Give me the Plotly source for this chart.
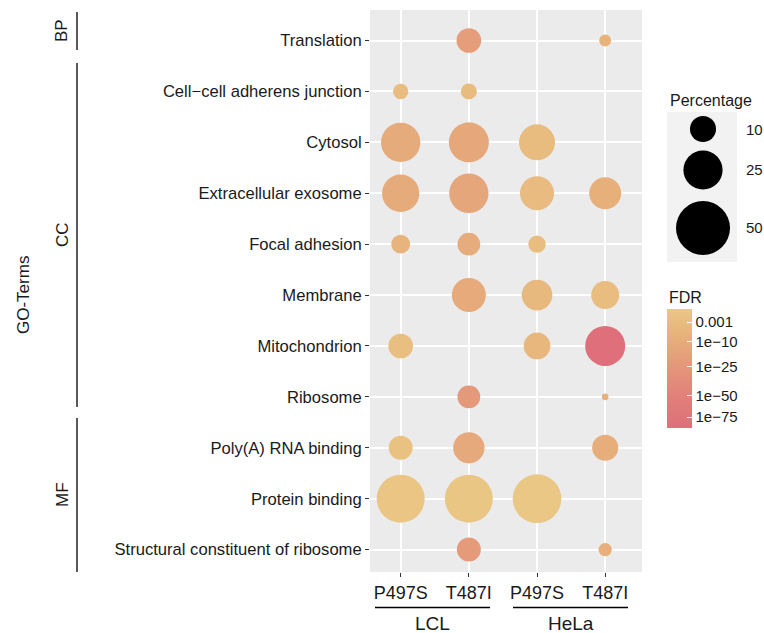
import numpy as np
import plotly.graph_objects as go

# ---------------- data ----------------
terms = [
    "Translation",
    "Cell\u2212cell adherens junction",
    "Cytosol",
    "Extracellular exosome",
    "Focal adhesion",
    "Membrane",
    "Mitochondrion",
    "Ribosome",
    "Poly(A) RNA binding",
    "Protein binding",
    "Structural constituent of ribosome",
]
samples = ["P497S", "T487I", "P497S", "T487I"]
cell_lines = ["LCL", "HeLa"]
categories = ["BP", "CC", "MF"]

# percentage of genes in each GO term (None = term not enriched)
pct_lcl_p497s = [None, 2.8, 25.2, 22.4, 4.6, None, 8.8, None, 8.3, 38.8, None]
pct_lcl_t487i = [8.8, 3.1, 26.1, 25.2, 7.3, 18.3, None, 7.3, 15.2, 38.8, 8.3]
pct_hela_p497s = [None, None, 20.7, 18.3, 3.8, 14.5, 10.6, None, None, 40.0, None]
pct_hela_t487i = [1.4, None, None, 15.9, None, 11.8, 26.1, 0.2, 10.0, None, 1.9]

# FDR given as -log10(FDR)
fdr_lcl_p497s = [None, 3.0, 11.0, 11.0, 6.0, None, 2.5, None, 1.5, 1.0, None]
fdr_lcl_t487i = [20.0, 3.5, 12.5, 13.5, 10.0, 10.5, None, 23.0, 12.0, 0.8, 21.0]
fdr_hela_p497s = [None, None, 3.5, 3.4, 3.0, 4.0, 5.0, None, None, 0.6, None]
fdr_hela_t487i = [7.0, None, None, 8.0, None, 3.0, 89.5, 7.5, 9.5, None, 8.5]

size_legend_values = [10, 25, 50]
fdr_tick_values = [3, 10, 25, 50, 75]
fdr_tick_text = ["0.001", "1e\u221210", "1e\u221225", "1e\u221250", "1e\u221275"]

# ---------------- helpers ----------------
W, H = 764, 633
FONT = "Liberation Sans, Arial, Helvetica, sans-serif"
TXT = "#1a1a1a"


def px(x):
    return x / W


def py(y):
    return 1 - y / H


def diam(p):
    return 3.4 + 7.16 * np.sqrt(p)


# colour runs from most significant (red) to least significant (light tan);
# values are -sqrt(-log10 FDR) so the light end sits at the top of the bar
colorscale = [
    [0.0, "#DF6F7A"],
    [0.25, "#E17F79"],
    [0.5, "#E4957A"],
    [0.75, "#E7AF7B"],
    [1.0, "#EAC784"],
]

pct_cols = [pct_lcl_p497s, pct_lcl_t487i, pct_hela_p497s, pct_hela_t487i]
fdr_cols = [fdr_lcl_p497s, fdr_lcl_t487i, fdr_hela_p497s, fdr_hela_t487i]

xs, ys, sizes, colors, hover = [], [], [], [], []
n = len(terms)
for ci, (pc, fc) in enumerate(zip(pct_cols, fdr_cols)):
    for ri in range(n):
        if pc[ri] is None:
            continue
        xs.append(ci + 1)
        ys.append(n - ri)
        sizes.append(diam(pc[ri]))
        colors.append(-np.sqrt(fc[ri]))
        hover.append(f"{terms[ri]}<br>{samples[ci]}<br>{pc[ri]}%<br>FDR 1e-{fc[ri]}")

all_fdr = [v for col in fdr_cols for v in col if v is not None]
cmin, cmax = -np.sqrt(max(all_fdr)), -np.sqrt(min(all_fdr))

fig = go.Figure()

# panel extents in pixels
PL, PR, PT, PB = 370, 642, 10, 572
# colour bar extents in pixels
CB_T, CB_B, CB_L = 309, 428, 667

fig.add_trace(go.Scatter(
    x=xs, y=ys, mode="markers", text=hover, hoverinfo="text",
    marker=dict(
        size=sizes, sizemode="diameter", sizeref=1,
        color=colors, colorscale=colorscale, cmin=cmin, cmax=cmax,
        line=dict(width=0), opacity=1,
        showscale=True,
        colorbar=dict(
            x=px(CB_L), xanchor="left", xpad=0, ypad=0,
            y=py((CB_T + CB_B) / 2), yanchor="middle",
            len=CB_B - CB_T, lenmode="pixels",
            thickness=25, thicknessmode="pixels",
            outlinewidth=0,
            tickvals=list(-np.sqrt(fdr_tick_values)),
            ticktext=fdr_tick_text,
            ticks="inside", ticklen=5, tickcolor="white", tickwidth=1,
            tickfont=dict(family=FONT, size=15, color=TXT),
        ),
    ),
    showlegend=False,
))

# size legend drawn in its own small subplot
LG_T, LG_B, LG_L, LG_R = 112, 262, 667, 737
leg_centres = [129, 170, 228]
fig.add_trace(go.Scatter(
    x=[36, 36, 36], y=[c - LG_T for c in leg_centres], mode="markers",
    marker=dict(size=[diam(v) for v in size_legend_values], sizemode="diameter",
                sizeref=1, color="black", opacity=1, line=dict(width=0)),
    xaxis="x2", yaxis="y2", hoverinfo="skip", showlegend=False,
))

fig.update_layout(
    width=W, height=H,
    margin=dict(l=0, r=0, t=0, b=0),
    paper_bgcolor="white",
    plot_bgcolor="#EBEBEB",
    font=dict(family=FONT, color=TXT),
    xaxis=dict(
        domain=[px(PL), px(PR)], range=[0.55, 4.54],
        tickvals=[1, 2, 3, 4], ticktext=samples,
        ticks="outside", ticklen=4, tickcolor="#333333", tickwidth=1,
        tickfont=dict(size=18, color=TXT),
        showgrid=True, gridcolor="white", gridwidth=1.6,
        zeroline=False, showline=False, fixedrange=True,
    ),
    yaxis=dict(
        domain=[py(PB), py(PT)], range=[0.56, 11.6],
        tickvals=list(range(n, 0, -1)), ticktext=terms,
        ticks="outside", ticklen=4, tickcolor="#333333", tickwidth=1,
        tickfont=dict(size=16.6, color=TXT),
        showgrid=True, gridcolor="white", gridwidth=1.6,
        zeroline=False, showline=False, fixedrange=True,
    ),
    xaxis2=dict(domain=[px(LG_L), px(LG_R)], range=[0, LG_R - LG_L],
                visible=False, fixedrange=True, anchor="y2"),
    yaxis2=dict(domain=[py(LG_B), py(LG_T)], range=[LG_B - LG_T, 0],
                visible=False, fixedrange=True, anchor="x2"),
)

shapes = [
    dict(type="rect", xref="x2 domain", yref="y2 domain", x0=0, x1=1, y0=0, y1=1,
         fillcolor="#F2F2F2", line=dict(width=0), layer="below"),
]


def hline(x0, x1, y):
    return dict(type="line", xref="paper", yref="paper", x0=px(x0), x1=px(x1),
                y0=py(y), y1=py(y), line=dict(color="black", width=1.3))


def vline(x, y0, y1):
    return dict(type="line", xref="paper", yref="paper", x0=px(x), x1=px(x),
                y0=py(y0), y1=py(y1), line=dict(color="black", width=1.3))


# cell line brackets under the x axis
shapes += [hline(375, 490, 607.5), hline(513, 628, 607.5)]
# GO category brackets on the left
shapes += [vline(77, 12, 50), vline(77, 63, 407), vline(77, 418, 572)]
fig.update_layout(shapes=shapes)

ann = []


def text(x, y, s, size, angle=0, xanchor="center"):
    ann.append(dict(x=px(x), y=py(y), xref="paper", yref="paper", text=s,
                    showarrow=False, textangle=angle, xanchor=xanchor,
                    yanchor="middle", font=dict(size=size, color=TXT, family=FONT)))


text(432.5, 623, cell_lines[0], 19)
text(570.8, 623, cell_lines[1], 19)
text(62, 31, categories[0], 17, angle=-90)
text(62, 235, categories[1], 17, angle=-90)
text(62, 495, categories[2], 17, angle=-90)
text(23, 295, "GO-Terms", 17, angle=-90)
text(668, 100, "Percentage", 16, xanchor="left")
text(667, 297, "FDR", 16, xanchor="left")
for v, yy in zip(size_legend_values, leg_centres):
    text(744, yy, str(v), 15, xanchor="left")
fig.update_layout(annotations=ann)

fig.write_html("out.html")
